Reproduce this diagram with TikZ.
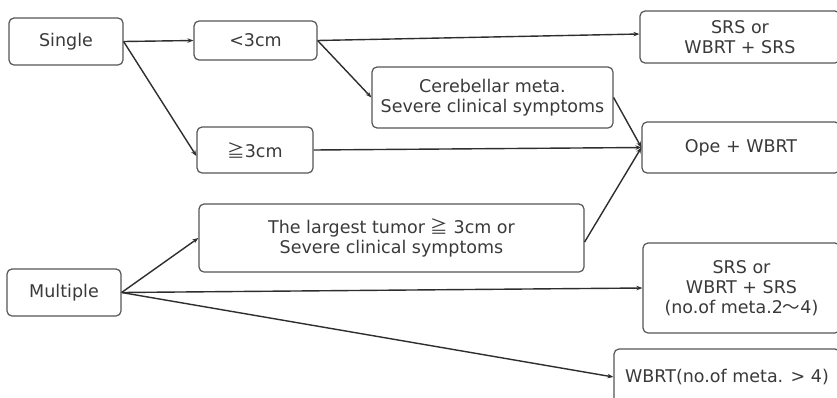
\documentclass[tikz,border=0pt]{standalone}
\usepackage{fontspec}
\setmainfont{DejaVu Sans}
\newfontfamily\jp{Noto Sans CJK JP}
\usetikzlibrary{arrows.meta}
\definecolor{txt}{HTML}{3A3A3A}
\definecolor{ln}{HTML}{2E2E2E}
\definecolor{bx}{HTML}{555555}
\tikzset{
  box/.style={draw=bx, line width=1.2pt, rounded corners=5pt, fill=white,
    inner sep=0pt, align=center, text=txt, font=\fontsize{17.5}{20}\selectfont},
  link/.style={draw=ln, line width=1.4pt, -{Stealth[length=6pt,width=4.5pt]}}
}
\begin{document}
\begin{tikzpicture}[x=1pt,y=-1pt]
\useasboundingbox (0,0) rectangle (837,397);
\clip (0,0) rectangle (837,397);
\fill[white] (0,0) rectangle (837,397);
\node[box, minimum width=114pt, minimum height=47pt] (single) at (66,41.5) {Single};
\node[box, minimum width=123pt, minimum height=39pt] (lt) at (255.5,40.5) {<3cm};
\node[box, minimum width=116pt, minimum height=46pt] (ge) at (255,150) {{\jp ≧}3cm};
\node[box, minimum width=241pt, minimum height=61pt] (cereb) at (492.5,97.5) {Cerebellar meta.\\Severe clinical symptoms};
\node[box, minimum width=200pt, minimum height=52pt] (srsa) at (740,37) {SRS or\\WBRT + SRS};
\node[box, minimum width=198pt, minimum height=51pt] (ope) at (741,147.5) {Ope + WBRT};
\node[box, minimum width=114pt, minimum height=47pt] (multiple) at (64,292.5) {Multiple};
\node[box, minimum width=385pt, minimum height=68pt] (largest) at (391.5,238) {The largest tumor {\jp ≧} 3cm or\\Severe clinical symptoms};
\node[box, minimum width=197pt, minimum height=90pt] (srsb) at (741.5,288) {SRS or\\WBRT + SRS\\(no.of meta.2{\jp 〜}4)};
\node[box, minimum width=226pt, minimum height=56pt] (wbrt) at (727,377) {WBRT(no.of meta. > 4)};
\draw[link] (single.east) -- (lt.west);
\draw[link] (single.east) -- ([yshift=-6pt]ge.west);
\draw[link] (lt.east) -- ([yshift=3pt]srsa.west);
\draw[link] (lt.east) -- (cereb.west);
\draw[link] (ge.east) -- (ope.west);
\draw[link] (cereb.east) -- (ope.west);
\draw[link] ([yshift=-4pt]largest.east) -- (ope.west);
\draw[link] (multiple.east) -- (largest.west);
\draw[link] (multiple.east) -- (srsb.west);
\draw[link] (multiple.east) -- (wbrt.west);
\end{tikzpicture}
\end{document}
